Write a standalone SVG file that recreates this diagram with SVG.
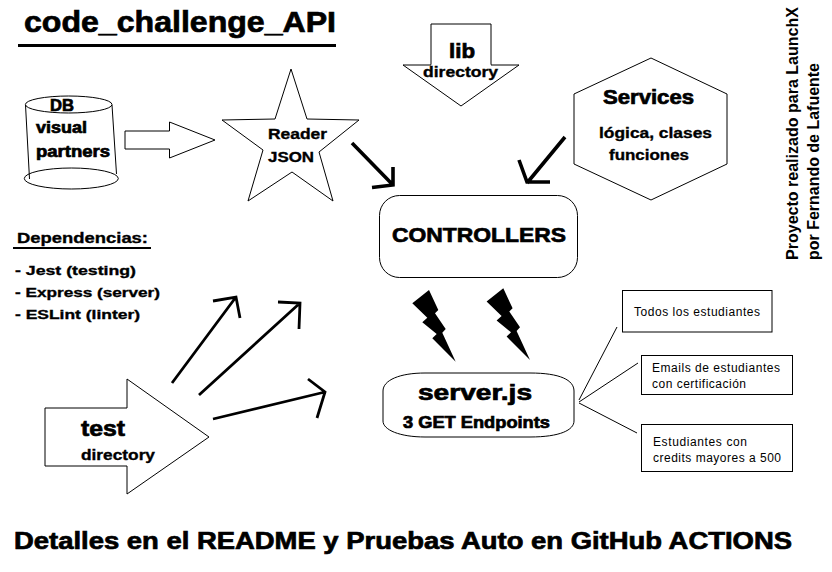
<svg xmlns="http://www.w3.org/2000/svg" width="832" height="572" viewBox="0 0 832 572">
<style>
text{font-family:"Liberation Sans",Arial,sans-serif;fill:#000}
.b{font-weight:bold;stroke:#000;stroke-width:.7px}
.t{font-weight:bold;stroke:#000;stroke-width:.35px}
.s{fill:#fff;stroke:#000;stroke-width:1}
.o{fill:none;stroke:#000;stroke-width:1}
.a4{fill:none;stroke:#000;stroke-width:3.6}
.a3{fill:none;stroke:#000;stroke-width:2.800}
.l{fill:none;stroke:#000;stroke-width:1}
.f{font-size:12px}
</style>
<rect width="832" height="572" fill="#fff"/>
<g id="title">
<text class="b" x="24" y="32" font-size="29" textLength="312" lengthAdjust="spacingAndGlyphs">code_challenge_API</text>
<rect x="18" y="44" width="318" height="3"/>
</g>
<g id="db">
<path class="o" d="M25.500 105L29.500 179M112 105L116.500 174"/>
<ellipse class="o" cx="68.700" cy="104.500" rx="43.300" ry="8.500"/>
<ellipse class="o" cx="71.300" cy="178.500" rx="47" ry="10.500"/>
<text class="b" x="50" y="111" font-size="16.500" textLength="24" lengthAdjust="spacingAndGlyphs">DB</text>
<text class="b" x="36" y="133" font-size="16.500" textLength="51" lengthAdjust="spacingAndGlyphs">visual</text>
<text class="b" x="36" y="157" font-size="16.500" textLength="74" lengthAdjust="spacingAndGlyphs">partners</text>
</g>
<g id="db-arrow">
<polygon class="s" points="125,131 169.500,131 169.500,122 215,140 169.500,158 169.500,149 125,149"/>
</g>
<g id="reader">
<polygon class="s" points="291,69 275,119 222,120 263,150 248,201 292,172 333,201 319,152 359,120 307,119"/>
<text class="t" x="268" y="139" font-size="14.500" textLength="59" lengthAdjust="spacingAndGlyphs">Reader</text>
<text class="t" x="268" y="162" font-size="14.500" textLength="46" lengthAdjust="spacingAndGlyphs">JSON</text>
</g>
<g id="lib">
<polygon class="s" points="431,24 491,24 491,65 519,65 461,106 403,65 431,65"/>
<path d="M431.500 65H490.500" stroke="#fff" stroke-width="1.500"/>
<text class="b" x="449" y="58" font-size="20" textLength="26" lengthAdjust="spacingAndGlyphs">lib</text>
<text class="t" x="423" y="77" font-size="14.500" textLength="75" lengthAdjust="spacingAndGlyphs">directory</text>
</g>
<g id="services">
<polygon class="s" points="651,58 727,94 727,164 651,200 574,164 574,94"/>
<text class="b" x="603" y="104" font-size="19.500" textLength="91" lengthAdjust="spacingAndGlyphs">Services</text>
<text class="t" x="599" y="138" font-size="14.500" textLength="113" lengthAdjust="spacingAndGlyphs">lógica, clases</text>
<text class="t" x="609" y="160" font-size="14.500" textLength="80" lengthAdjust="spacingAndGlyphs">funciones</text>
</g>
<g id="controllers">
<rect class="s" x="379.500" y="195.500" width="198" height="82" rx="20"/>
<text class="b" x="392" y="242" font-size="21" textLength="174" lengthAdjust="spacingAndGlyphs">CONTROLLERS</text>
</g>
<g id="credit">
<text font-weight="bold" font-size="16" transform="translate(798 260) rotate(-90)" textLength="253" lengthAdjust="spacingAndGlyphs">Proyecto realizado para LaunchX</text>
<text font-weight="bold" font-size="16" transform="translate(819 260) rotate(-90)" textLength="197" lengthAdjust="spacingAndGlyphs">por Fernando de Lafuente</text>
</g>
<g id="dependencias">
<text class="t" x="17" y="243" font-size="15" textLength="131" lengthAdjust="spacingAndGlyphs">Dependencias:</text>
<rect x="13" y="247" width="138" height="2"/>
<text class="t" x="15" y="275" font-size="13.500" textLength="121" lengthAdjust="spacingAndGlyphs">- Jest (testing)</text>
<text class="t" x="15" y="297" font-size="13.500" textLength="145" lengthAdjust="spacingAndGlyphs">- Express (server)</text>
<text class="t" x="15" y="319" font-size="13.500" textLength="125" lengthAdjust="spacingAndGlyphs">- ESLint (linter)</text>
</g>
<g id="test">
<polygon class="s" points="45,408 127,408 127,379 209,437 127,494 127,466 45,466"/>
<text class="b" x="81" y="436" font-size="22" textLength="44" lengthAdjust="spacingAndGlyphs">test</text>
<text class="t" x="81" y="460" font-size="15" textLength="74" lengthAdjust="spacingAndGlyphs">directory</text>
</g>
<g id="server">
<path class="s" d="M383 391C383 380 400 373 425 373L530 373C560 373 574 380 574 391L574 421C574 430 560 437 530 437L425 437C400 437 383 430 383 421Z"/>
<text class="b" x="418" y="400" font-size="22" textLength="114" lengthAdjust="spacingAndGlyphs">server.js</text>
<text class="b" x="403" y="428" font-size="16.500" textLength="147" lengthAdjust="spacingAndGlyphs">3 GET Endpoints</text>
</g>
<g id="endpoint-1">
<rect class="s" x="622.500" y="290.500" width="149.500" height="41.500"/>
<text class="f" x="634" y="316" textLength="126">Todos los estudiantes</text>
</g>
<g id="endpoint-2">
<rect class="s" x="641.500" y="355.500" width="151" height="39"/>
<text class="f" x="652" y="372" textLength="128">Emails de estudiantes</text>
<text class="f" x="652" y="388" textLength="94">con certificación</text>
</g>
<g id="endpoint-3">
<rect class="s" x="641.500" y="424.500" width="151" height="47"/>
<text class="f" x="653" y="446" textLength="94">Estudiantes con</text>
<text class="f" x="653" y="462" textLength="128">credits mayores a 500</text>
</g>
<g id="footer">
<text class="b" x="14" y="549" font-size="23.500" textLength="778" lengthAdjust="spacingAndGlyphs">Detalles en el README y Pruebas Auto en GitHub ACTIONS</text>
</g>
<g id="connectors">
<path class="a4" d="M352 143L393 185M372 187.500L393 185L393 167"/>
<path class="a4" d="M565 137L527 183M519 160L527 182L550 182"/>
<path class="a3" d="M172 383L236 297M213 301L236 297L240 318"/>
<path class="a3" d="M199 395L300 303M278 302L300 303L299 329"/>
<path class="a3" d="M213 419L325 392M308 379L325 392L317 418"/>
<polygon points="412.300,303.300 429,290 438.300,310 435,313.300 445.700,329 442.300,332.700 455.700,361.700 432.300,338.300 436.700,334 422.300,322.300 427.300,317.700"/>
<polygon points="486.600,301.600 503.300,288.300 512.600,308.300 509.300,311.600 520,327.300 516.600,331 530,360 506.600,336.600 511,332.300 496.600,320.600 501.600,316"/>
<path class="l" d="M579 400L617 327M579 402L638 363M579 403L637 433"/>
</g>
</svg>
